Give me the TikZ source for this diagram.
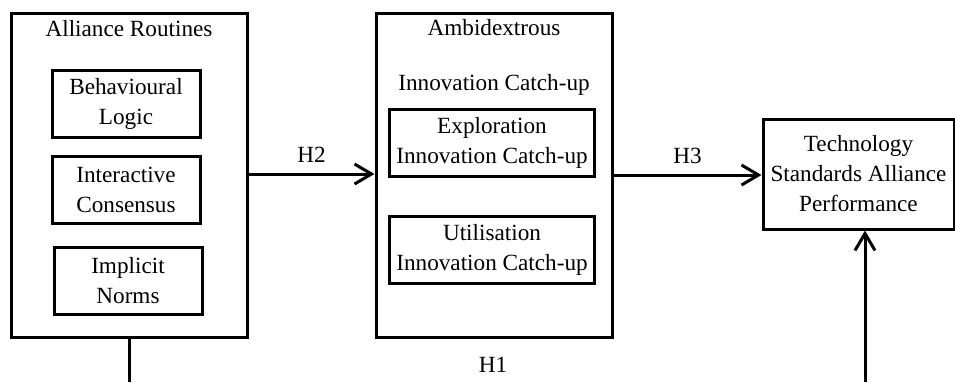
\documentclass[tikz,border=0pt]{standalone}
\usepackage{fontspec}
\setmainfont{Liberation Serif}
\usetikzlibrary{arrows.meta, positioning}
\tikzset{
every node/.style={font=\fontsize{11.6}{15}\selectfont, align=center}, % Times-like text
frame/.style={draw, line width=1.5pt, minimum width=118pt, minimum height=162pt}, % the two large blocks
subbox/.style={draw, line width=1.5pt, minimum width=74pt, minimum height=33.5pt, inner sep=1pt}, % boxes inside a block
link/.style={line width=1.5pt, -{Straight Barb[length=8.5pt,width=10pt,line width=1.5pt]}}, % directed connectors
}

\begin{document}
\begin{tikzpicture}[x=0.5pt, y=-0.5pt]
        \useasboundingbox (0,0) rectangle (955,382);

        % alliance routines block
        \node[frame] (routines) at (129,175) {};
        \node[anchor=base] (routinestitle) at (129,36) {Alliance Routines};
        \node[subbox] (logic) at (126,103.5) {Behavioural\\Logic};
        \node[subbox] (consensus) at (126,189.5) {Interactive\\Consensus};
        \node[subbox] (norms) at (128,280.5) {Implicit\\Norms};

        % ambidextrous catch-up block
        \node[frame] (catchup) at (494,175) {};
        \node[anchor=base] (catchuptitle) at (494,35) {Ambidextrous};
        \node[anchor=base] (catchupsub) at (494,90) {Innovation Catch-up};
        \node[subbox, minimum width=102.5pt] (explore) at (492,142.5) {Exploration\\Innovation Catch-up};
        \node[subbox, minimum width=102.5pt] (utilise) at (492,249.5) {Utilisation\\Innovation Catch-up};

        % outcome
        \node[subbox, minimum width=95.5pt, minimum height=55pt] (perf) at (858.5,174) {Technology\\Standards Alliance\\Performance};

        \coordinate (h1start) at (129,382);
        \coordinate (h1end) at (865,382);
        \node[anchor=base] (h1) at (493,372) {H1};

        \draw[link] (routines.east |- 0,174) -- node[above=1.5pt] {H2} (catchup.west |- 0,174);
        \draw[link] (catchup.east |- 0,175) -- node[above=1.5pt] {H3} (perf.west |- 0,175);
        \draw[line width=1.5pt] (routines.south) -- (h1start);
        \draw[link] (h1end) -- (h1end |- perf.south);
      \end{tikzpicture}
\end{document}
